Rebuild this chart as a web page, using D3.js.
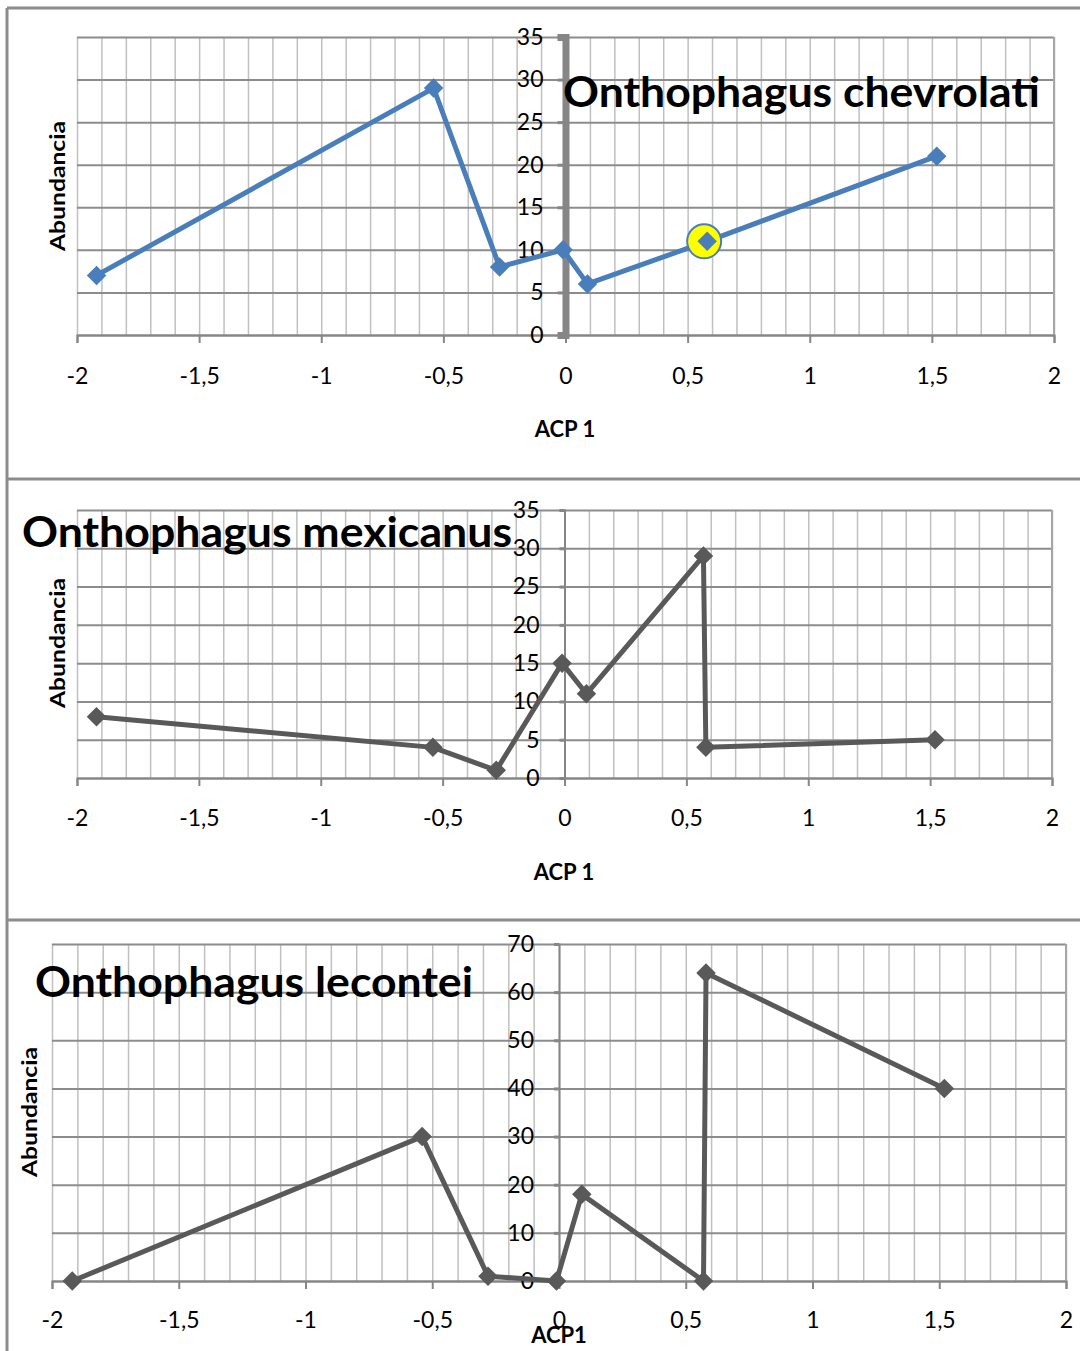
<!doctype html>
<html lang="es">
<head>
<meta charset="utf-8">
<style>
body{margin:0;background:#fff;}
svg text{font-family:Lato,"Open Sans",sans-serif;fill:#000;}
.grid-v line{stroke:#c0c0c0;stroke-width:1.5;}
.grid-h line{stroke:#8c8c8c;stroke-width:2;}
.grid-v path,.grid-h path{display:none;}
</style>
</head>
<body>
<div id="grafico"></div>
<script src="https://d3js.org/d3.v7.min.js"></script>
<script>

// valores ACP 1
var acpChevrolati = [-1.92, -0.54, -0.27, -0.01, 0.09, 0.58, 1.52];
var acpTodos = [-1.92, -0.54, -0.28, -0.01, 0.09, 0.57, 0.58, 1.52];

// abundancias
var chevrolati = [7, 29, 8, 10, 6, 11, 21];
var mexicanus = [8, 4, 1, 15, 11, 29, 4, 5];
var lecontei = [0, 30, 1, 0, 18, 0, 64, 40];

// ejes
var xTicks = [-2, -1.5, -1, -0.5, 0, 0.5, 1, 1.5, 2];
var yTicks35 = [0, 5, 10, 15, 20, 25, 30, 35];
var yTicks70 = [0, 10, 20, 30, 40, 50, 60, 70];
var destacado = 5; // punto marcado en amarillo (chevrolati)

var paneles = [
	{titulo:"Onthophagus chevrolati", x:acpChevrolati, y:chevrolati, yTicks:yTicks35, ymax:35,
	 color:"#4a7ebb", left:77, right:1054, top:37, bottom:335, ejeGrueso:true,
	 tit:{x:563, y:107, w:477}, abund:{x:58, y:186}, acp:{x:565, y:437, t:"ACP 1"}, pad:25},
	{titulo:"Onthophagus mexicanus", x:acpTodos, y:mexicanus, yTicks:yTicks35, ymax:35,
	 color:"#595959", left:77, right:1052, top:510, bottom:778, ejeGrueso:false,
	 tit:{x:22, y:547, w:490}, abund:{x:58, y:643}, acp:{x:564, y:880, t:"ACP 1"}, pad:24},
	{titulo:"Onthophagus lecontei", x:acpTodos, y:lecontei, yTicks:yTicks70, ymax:70,
	 color:"#595959", left:52, right:1066, top:944, bottom:1281, ejeGrueso:false,
	 tit:{x:35, y:997, w:438}, abund:{x:30, y:1112}, acp:{x:559, y:1343, t:"ACP1"}, pad:23}
];

var svg = d3.select("#grafico").append("svg").attr("width",1080).attr("height",1351);

// marcos de los paneles
var marco = svg.append("g").attr("stroke","#8c8c8c").attr("stroke-width",3);
marco.append("line").attr("x1",7).attr("x2",1080).attr("y1",8).attr("y2",8);
marco.append("line").attr("x1",7).attr("x2",7).attr("y1",8).attr("y2",1351);
marco.append("line").attr("x1",7).attr("x2",1080).attr("y1",479).attr("y2",479);
marco.append("line").attr("x1",7).attr("x2",1080).attr("y1",920).attr("y2",920);

var fmt = function(d){ return String(d).replace(".", ","); };

paneles.forEach(function(p, k){

	var x = d3.scaleLinear().domain([-2, 2]).range([p.left, p.right]);
	var y = d3.scaleLinear().domain([0, p.ymax]).range([p.bottom, p.top]);
	var g = svg.append("g");

	// rejilla vertical (cada 0,1)
	g.append("g").attr("class","grid-v").attr("transform","translate(0," + p.bottom + ")")
		.call(d3.axisBottom(x).ticks(40).tickSize(-(p.bottom - p.top)).tickFormat(""));

	// rejilla horizontal
	g.append("g").attr("class","grid-h").attr("transform","translate(" + p.left + ",0)")
		.call(d3.axisRight(y).tickValues(p.yTicks).tickSize(p.right - p.left).tickFormat(""));

	// borde derecho del área
	g.append("line").attr("x1",x(2)).attr("x2",x(2)).attr("y1",p.top).attr("y2",p.bottom)
		.attr("stroke","#a6a6a6").attr("stroke-width",2);

	// eje X en y = 0
	var ejeX = g.append("g").attr("transform","translate(0," + y(0) + ")")
		.call(d3.axisBottom(x).tickValues(xTicks).tickSize(8).tickPadding(p.pad).tickFormat(fmt));
	ejeX.select(".domain").attr("stroke","#868686").attr("stroke-width",2);
	ejeX.selectAll(".tick line").attr("stroke","#868686").attr("stroke-width",2);
	ejeX.selectAll("text").style("font-size","23px");

	// eje Y en x = 0
	var ejeY = g.append("g").attr("transform","translate(" + x(0) + ",0)")
		.call(d3.axisLeft(y).tickValues(p.yTicks).tickSize(p.ejeGrueso ? 8 : 5).tickPadding(p.ejeGrueso ? 14 : 20).tickFormat(fmt));
	ejeY.select(".domain").attr("stroke","#868686").attr("stroke-width", p.ejeGrueso ? 7 : 2);
	ejeY.selectAll(".tick line").attr("stroke","#868686").attr("stroke-width",3);
	ejeY.selectAll("text").style("font-size","23px");

	var puntos = p.x.map(function(v, i){ return [v, p.y[i]]; });

	// línea
	g.append("path").datum(puntos)
		.attr("fill","none").attr("stroke",p.color).attr("stroke-width",5).attr("stroke-linejoin","round")
		.attr("d", d3.line().x(function(d){ return x(d[0]); }).y(function(d){ return y(d[1]); }));

	// círculo amarillo
	if (k == 0) {
		g.append("circle").attr("cx", x(p.x[destacado]) - 3).attr("cy", y(p.y[destacado])).attr("r",17)
			.attr("fill","#ffff00").attr("stroke",p.color).attr("stroke-width",2);
	}

	// marcadores rombo
	g.selectAll(".m").data(puntos).enter().append("path")
		.attr("d", d3.symbol().type(d3.symbolSquare).size(190))
		.attr("transform", function(d){ return "translate(" + x(d[0]) + "," + y(d[1]) + ") rotate(45)"; })
		.attr("fill",p.color);

	// títulos
	g.append("text").text(p.titulo).attr("x",p.tit.x).attr("y",p.tit.y)
		.attr("textLength",p.tit.w).attr("lengthAdjust","spacingAndGlyphs")
		.style("font-size","42px").style("font-weight","bold");

	g.append("text").text("Abundancia").attr("transform","translate(" + p.abund.x + "," + p.abund.y + ") rotate(-90)")
		.attr("text-anchor","middle").attr("dy","0.35em").attr("textLength",130).attr("lengthAdjust","spacingAndGlyphs")
		.style("font-size","21px").style("font-weight","bold");

	g.append("text").text(p.acp.t).attr("x",p.acp.x).attr("y",p.acp.y).attr("text-anchor","middle")
		.style("font-size","22px").style("font-weight","bold");
});

</script>
</body>
</html>
